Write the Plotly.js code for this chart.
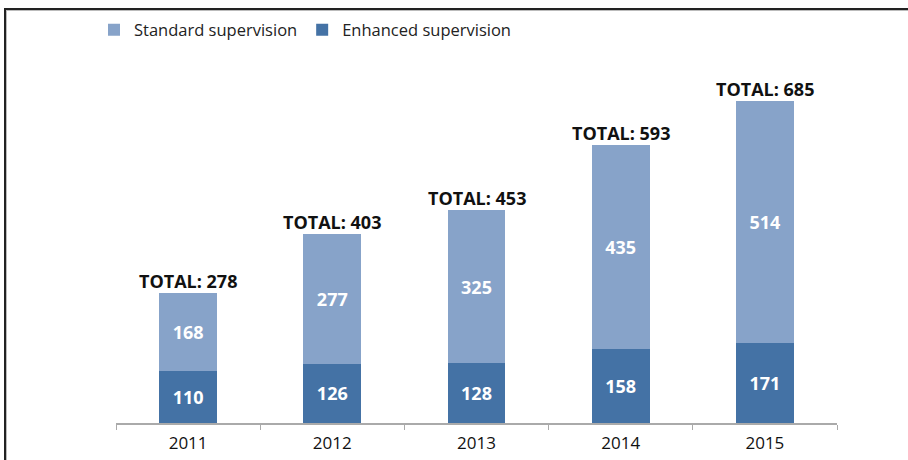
<!DOCTYPE html>
<html>
<head>
<meta charset="utf-8">
<script src="https://cdn.plot.ly/plotly-3.0.1.min.js"></script>
<style>
html,body{margin:0;padding:0;background:#fff;}
#frame{position:absolute;left:4px;top:8px;width:904px;height:452px;border-left:2px solid #222;border-top:2px solid #222;box-shadow:inset 1px 1px 0 #bbb;pointer-events:none;z-index:5;}
#chart{width:908px;height:460px;}
</style>
</head>
<body>
<div id="frame"></div>
<div id="chart"></div>
<script>
const years = ['2011','2012','2013','2014','2015'];
const enhanced = [110,126,128,158,171];
const standard = [168,277,325,435,514];
const seriesNames = ['Standard supervision','Enhanced supervision'];
const totals = years.map((y,i)=>enhanced[i]+standard[i]);

const FONT = 'Open Sans, sans-serif';
const traces = [
  {type:'bar', name:seriesNames[1], x:years, y:enhanced, marker:{color:'#4472a5', line:{width:0}},
   text:enhanced.map(String), textposition:'inside', insidetextanchor:'middle',
   textfont:{color:'#fff', size:18, family:FONT, weight:'bold'}, hoverinfo:'none'},
  {type:'bar', name:seriesNames[0], x:years, y:standard, marker:{color:'#87a3c9', line:{width:0}},
   text:standard.map(String), textposition:'inside', insidetextanchor:'middle',
   textfont:{color:'#fff', size:18, family:FONT, weight:'bold'}, hoverinfo:'none'}
];
const annotations = years.map((y,i)=>({x:i, y:totals[i], xref:'x', yref:'y', text:'<b>TOTAL: '+totals[i]+'</b>',
  showarrow:false, yanchor:'bottom', yshift:-2, font:{size:18, family:FONT, color:'#111'}}));

const layout = {
  width:908, height:460,
  margin:{l:116, r:71, t:47, b:37},
  barmode:'stack', bargap:0.6,
  paper_bgcolor:'#fff', plot_bgcolor:'#fff',
  showlegend:true,
  legend:{orientation:'h', x:94/908, xref:'container', y:1-30/460, yref:'container', yanchor:'middle', xanchor:'left',
    traceorder:'reversed', itemwidth:30, font:{size:16.5, family:FONT, color:'#222'}},
  xaxis:{type:'category', range:[-0.5,4.5], showline:true, linecolor:'#aaa', linewidth:1.5, ticks:'outside', ticklen:5, tickcolor:'#aaa',
    tickson:'boundaries', ticklabelstandoff:4, tickfont:{size:17, family:FONT, color:'#111'}, showgrid:false, fixedrange:true},
  yaxis:{range:[0,800], visible:false, showgrid:false, zeroline:false, fixedrange:true},
  annotations:annotations
};
Plotly.newPlot('chart', traces, layout, {displayModeBar:false, staticPlot:true});
</script>
</body>
</html>
